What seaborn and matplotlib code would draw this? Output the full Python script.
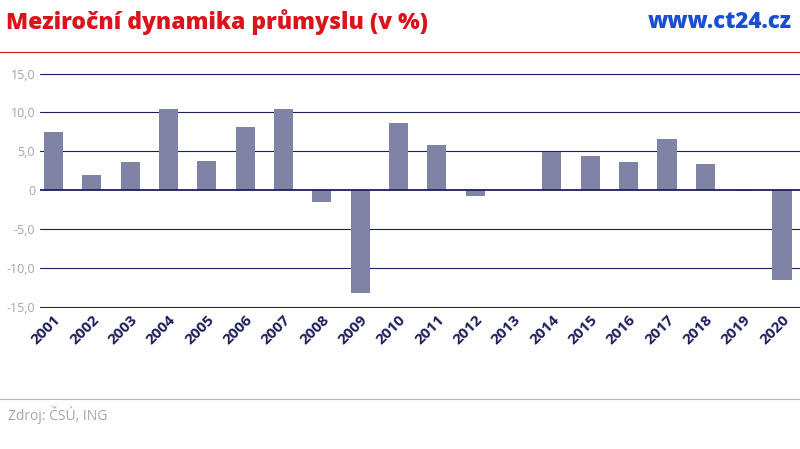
import matplotlib
matplotlib.use("Agg")
import matplotlib.pyplot as plt
import seaborn as sns
import pandas as pd

years = [str(y) for y in range(2001, 2021)]
values = [7.5, 1.9, 3.6, 10.5, 3.75, 8.15, 10.5, -1.55, -13.2, 8.67,
          5.8, -0.8, 0.05, 4.9, 4.4, 3.6, 6.6, 3.4, -0.05, -11.6]
yticks = [-15, -10, -5, 0, 5, 10, 15]
ytick_labels = ["-15,0", "-10,0", "-5,0", "0", "5,0", "10,0", "15,0"]

sns.set_style("white")
plt.rcParams['font.family'] = ['Open Sans', 'DejaVu Sans']

df = pd.DataFrame({"year": years, "value": values})
fig = plt.figure(figsize=(8, 4.49), dpi=100)
ax = fig.add_axes([0.05, 0.315, 0.95, 0.523])
sns.barplot(data=df, x="year", y="value", color="#7f84a6", width=0.5, ax=ax,
            saturation=1, linewidth=0, zorder=2)
ax.set_ylim(-15.1, 15.1)
ax.set_xlim(-0.35, 19.47)
ax.set_yticks(yticks)
ax.set_yticklabels(ytick_labels, color="#a0a3bd", fontsize=9)
for t in yticks:
    ax.axhline(t, color="#1d1f5a", lw=1.3 if t == 0 else 0.8, zorder=3 if t == 0 else 1)
for s in ax.spines.values():
    s.set_visible(False)
ax.tick_params(axis="both", length=0)
ax.set_xlabel(""); ax.set_ylabel("")
plt.setp(ax.get_xticklabels(), rotation=45, ha="right", rotation_mode="anchor",
         fontsize=11, fontweight="bold", color="#1d1f5a")

fig.text(0.008, 0.95, "Meziroční dynamika průmyslu (v %)", color="#d9141b",
         fontsize=16.5, fontweight="heavy", va="center")
fig.text(0.99, 0.95, "www.ct24.cz", color="#1a4fcf", fontsize=16,
         fontweight="heavy", va="center", ha="right")
fig.add_artist(plt.Line2D([0, 1], [0.885, 0.885], color="#d9141b", lw=0.8))
fig.add_artist(plt.Line2D([0, 1], [0.112, 0.112], color="#b0b3cc", lw=0.8))
fig.text(0.01, 0.075, "Zdroj: ČSÚ, ING", color="#a0a3bd", fontsize=10, va="center")
fig.savefig("out.png", dpi=100)
